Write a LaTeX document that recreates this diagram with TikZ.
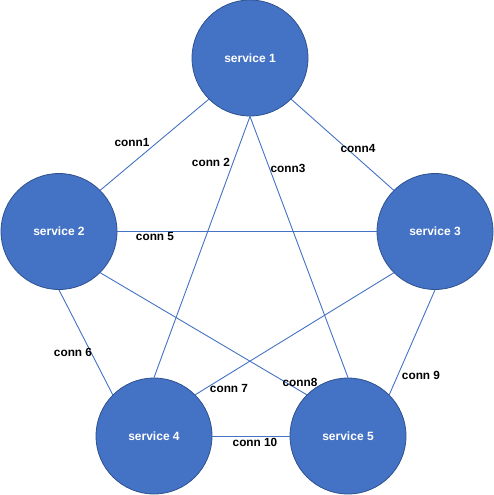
\documentclass[tikz,border=0pt]{standalone}
\usepackage{fontspec}
\setmainfont{Liberation Sans}
\begin{document}
\begin{tikzpicture}[x=1pt,y=-1pt,
  service/.style={circle, minimum size=116pt, inner sep=0pt,
    fill=svcfill, draw=svcedge, line width=0.8pt,
    text=white, font=\fontsize{12}{14}\selectfont\bfseries},
  link/.style={draw=svcfill, line width=0.9pt},
  lbl/.style={font=\fontsize{11.8}{13}\selectfont\bfseries, text=black, inner sep=0pt}]
\definecolor{svcfill}{HTML}{4472C4}
\definecolor{svcedge}{HTML}{2F528F}
\useasboundingbox (0,0) rectangle (494,495);

% services
\node[service] (s1) at (250,58)    {service 1};
\node[service] (s2) at (59,231.5)  {service 2};
\node[service] (s3) at (435,231.5) {service 3};
\node[service] (s4) at (154,436)   {service 4};
\node[service] (s5) at (348,436)   {service 5};

% connections
\draw[link] (s1.south west) -- (s2.north east);
\draw[link] (s1.south) -- (s4.north);
\draw[link] (s1.south) -- (s5.north);
\draw[link] (s1.south east) -- (s3.north west);
\draw[link] (s2.east) -- (s3.west);
\draw[link] (s2.south) -- (s4.north west);
\draw[link] (s3.south west) -- (s4.north east);
\draw[link] (s2.south east) -- (s5.north west);
\draw[link] (s3.south) -- (s5.north east);
\draw[link] (s4.east) -- (s5.west);

% connection labels
\node[lbl] (l1)  at (132,142) {conn1};
\node[lbl] (l2)  at (211,162) {conn 2};
\node[lbl] (l3)  at (288,168) {conn3};
\node[lbl] (l4)  at (358,148) {conn4};
\node[lbl] (l5)  at (155,236) {conn 5};
\node[lbl] (l6)  at (73,352)  {conn 6};
\node[lbl] (l7)  at (229,388) {conn 7};
\node[lbl] (l8)  at (300,382) {conn8};
\node[lbl] (l9)  at (421,375) {conn 9};
\node[lbl] (l10) at (255,442) {conn 10};
\end{tikzpicture}
\end{document}
